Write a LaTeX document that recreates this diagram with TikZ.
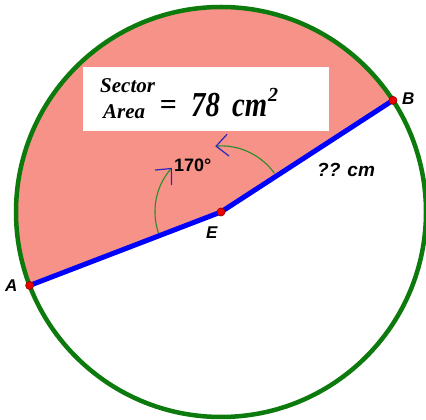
\documentclass[tikz,border=0pt]{standalone}
\usepackage{fontspec}
\setmainfont{Liberation Serif}
\newfontfamily\arialf{Liberation Sans}
\usetikzlibrary{arrows.meta,calc}
\definecolor{pinkfill}{RGB}{247,146,136}
\definecolor{cgreen}{RGB}{12,122,12}
\definecolor{arcgreen}{RGB}{40,140,40}
\definecolor{navyarrow}{RGB}{40,40,190}
\definecolor{dotred}{RGB}{235,0,0}
\tikzset{
  circ/.style={draw=cgreen, line width=4.5pt},
  radius line/.style={draw=blue, line width=5pt},
  anglearc/.style={draw=arcgreen, line width=1.1pt,
    -{Straight Barb[length=12pt,width=22pt,line width=1.2pt,color=navyarrow]}},
  ptdot/.style={circle, fill=dotred, draw=red!60!black, line width=0.7pt, inner sep=0pt, minimum size=8pt},
  ptlabel/.style={font=\arialf\bfseries\itshape\fontsize{17}{17}\selectfont, inner sep=0pt, anchor=base west},
  boxtext/.style={font=\bfseries\itshape\fontsize{21}{21}\selectfont, inner sep=0pt},
}
\begin{document}
\begin{tikzpicture}[x=1pt,y=1pt]
\clip (0,0) rectangle (426,420);
\fill[white] (0,0) rectangle (426,420);
\coordinate (E) at (221,208);
\coordinate (A) at ($(E)+(201:205)$);
\coordinate (B) at ($(E)+(33:205)$);
% sector
\fill[pinkfill] (E) -- (B) arc[start angle=33, end angle=201, radius=205] -- cycle;
% circle
\draw[circ] (E) circle[radius=205];
% text box
\fill[white] (83,289) rectangle (329,353);
\node[boxtext, anchor=base west] (sector) at (100,327) {Sector};
\node[boxtext, anchor=base west] (area) at (103,301) {Area};
\node[font=\bfseries\fontsize{30}{30}\selectfont, inner sep=0pt] (eq) at (168.5,312) {=};
\node[font=\bfseries\itshape\fontsize{35}{35}\selectfont, inner sep=0pt, anchor=base west] (val) at (191,303.3) {\scalebox{0.82}[1]{78}};
\node[font=\bfseries\itshape\fontsize{35}{35}\selectfont, inner sep=0pt, anchor=base west] (unit) at (232,303.3) {\scalebox{0.82}[1]{cm}};
\node[font=\bfseries\itshape\fontsize{20}{20}\selectfont, inner sep=0pt, anchor=base west] (sq) at (268,318) {2};
% angle arcs
\draw[anglearc] ($(E)+(199:66)$) arc[start angle=199, end angle=138, radius=66];
\draw[anglearc] ($(E)+(36:66)$) arc[start angle=36, end angle=95, radius=66];
% radii
\draw[radius line] (A) -- (E) -- (B);
% points
\node[ptdot] (dA) at (A) {};
\node[ptdot] (dB) at (B) {};
\node[ptdot] (dE) at (E) {};
% labels
\node[ptlabel] (lA) at (5,128.5) {A};
\node[ptlabel] (lB) at (402,315) {B};
\node[ptlabel] (lE) at (206,181) {E};
\node[font=\arialf\bfseries\fontsize{18}{18}\selectfont, inner sep=0pt, anchor=base west] (ang) at (174,248) {170°};
\node[font=\arialf\bfseries\itshape\fontsize{19}{19}\selectfont, inner sep=0pt, anchor=base west] (len) at (317,243) {?? cm};
\end{tikzpicture}
\end{document}
